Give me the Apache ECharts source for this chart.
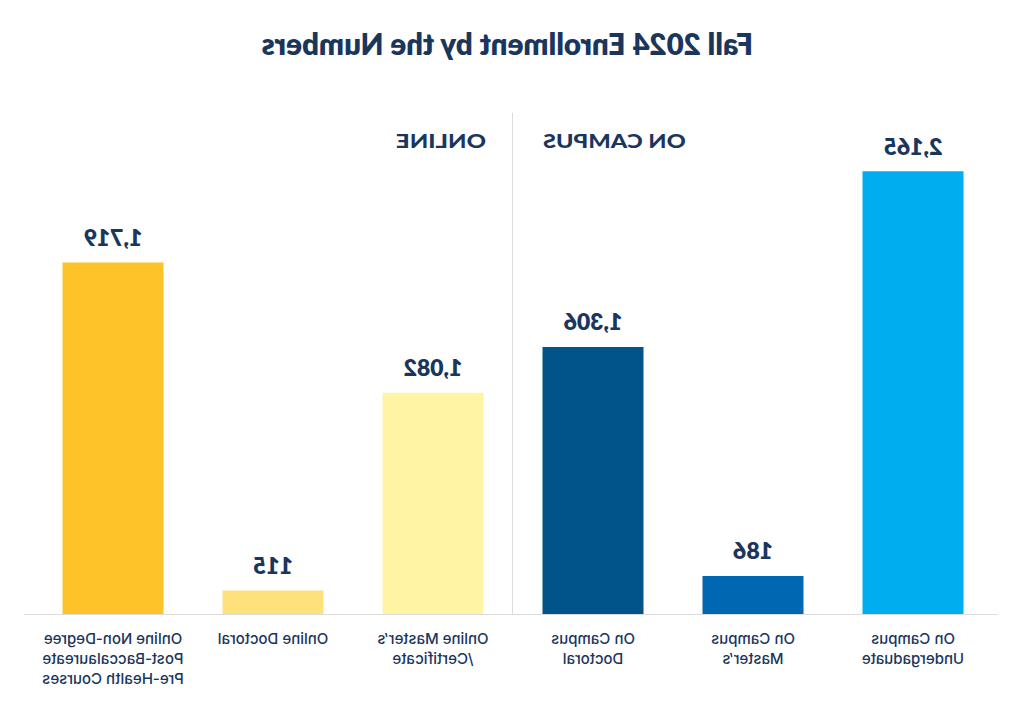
<!DOCTYPE html>
<html>
<head>
<meta charset="utf-8">
<script src="https://cdn.jsdelivr.net/npm/echarts@6/dist/echarts.min.js"></script>
<style>
html,body{margin:0;padding:0;background:#fff;}
#chart{width:1024px;height:714px;transform:scaleX(-1);}
</style>
</head>
<body>
<div id="chart"></div>
<script>
const titleText = 'Fall 2024 Enrollment by the Numbers';
const sectionLabels = ['ON CAMPUS', 'ONLINE'];
const categories = [
  'On Campus\nUndergaduate',
  'On Campus\nMaster\u2019s',
  'On Campus\nDoctoral',
  'Online Master\u2019s\n/Certificate',
  'Online Doctoral',
  'Online Non-Degree\nPost-Baccalaureate\nPre-Health Courses'
];
const values = [2165, 186, 1306, 1082, 115, 1719];
const barColors = ['#00AEEF', '#0068B3', '#00548A', '#FFF4A4', '#FFE17B', '#FEC328'];

const navy = '#1B365D';
const gridLine = '#dcdcdc';
const fontFamily = 'Lato, "Noto Sans", sans-serif';
const labelFont = 'Inter, Lato, "Noto Sans", sans-serif';

const chart = echarts.init(document.getElementById('chart'), null, {renderer: 'svg'});
chart.setOption({
  backgroundColor: '#fff',
  animation: false,
  title: {
    text: titleText, left: 271, top: 28, padding: 0,
    textStyle: {fontFamily, fontSize: 29.5, fontWeight: 800, color: navy}
  },
  graphic: [
    {type: 'text', x: 481, y: 141, scaleX: 1.24, silent: true,
     style: {text: sectionLabels[0], fill: navy, align: 'right', verticalAlign: 'middle',
             font: '900 19px Lato, "Noto Sans", sans-serif'}},
    {type: 'text', x: 538, y: 141, scaleX: 1.26, silent: true,
     style: {text: sectionLabels[1], fill: navy, align: 'left', verticalAlign: 'middle',
             font: '900 19px Lato, "Noto Sans", sans-serif'}},
    {type: 'line', silent: true, z: 0,
     shape: {x1: 26, y1: 614.5, x2: 1000, y2: 614.5},
     style: {stroke: gridLine, lineWidth: 1.2}}
  ],
  grid: {left: 31, right: 33, top: 113, bottom: 100, containLabel: false},
  xAxis: [{
    type: 'category',
    data: categories,
    axisLine: {show: false},
    axisTick: {show: false},
    splitLine: {show: false},
    axisLabel: {
      interval: 0, margin: 14, color: navy, fontFamily: labelFont, fontSize: 15, fontWeight: 500,
      lineHeight: 20, align: 'center'
    }
  }, {
    type: 'value', min: 0, max: 6, show: false
  }],
  yAxis: {
    type: 'value', min: 0, max: 2450, show: false,
    splitLine: {show: false}
  },
  series: [{
    type: 'bar',
    xAxisIndex: 0,
    data: values.map((v, i) => ({value: v, itemStyle: {color: barColors[i]}})),
    barWidth: 101,
    label: {
      show: true, position: 'top', distance: 14,
      formatter: (p) => p.value.toLocaleString('en-US'),
      fontFamily, fontSize: 23, fontWeight: 800, color: navy
    }
  }, {
    type: 'line',
    xAxisIndex: 1,
    data: [],
    silent: true,
    markLine: {
      symbol: 'none', silent: true, label: {show: false},
      lineStyle: {color: gridLine, type: 'solid', width: 1},
      data: [{xAxis: 3}]
    }
  }]
});
</script>
</body>
</html>
